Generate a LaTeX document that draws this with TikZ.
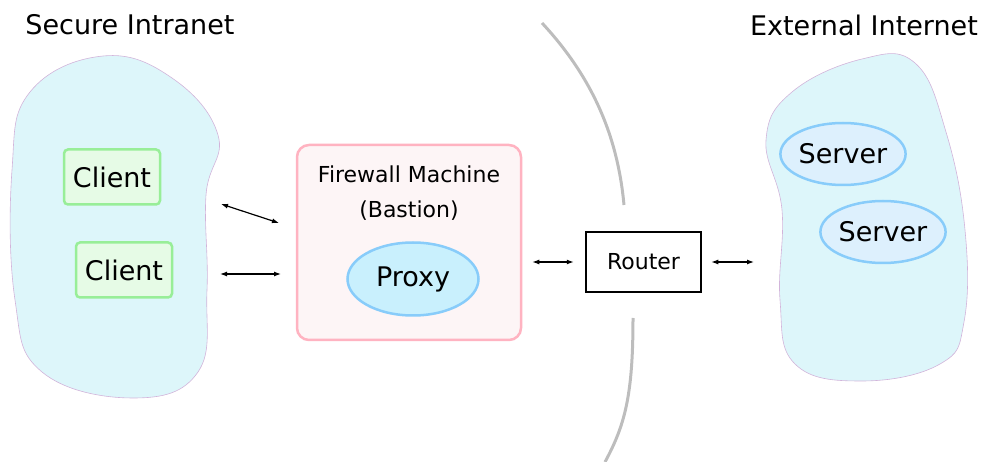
\documentclass[tikz,border=0pt]{standalone}
\usepackage{fontspec}
\setmainfont{DejaVu Sans}
\usetikzlibrary{arrows.meta,positioning,shapes.geometric}
\definecolor{netfill}{HTML}{DDF6FA}
\definecolor{netline}{HTML}{D2B4DA}
\definecolor{clientfill}{HTML}{E6FBE6}
\definecolor{clientline}{HTML}{98EE98}
\definecolor{wallfill}{HTML}{FDF5F6}
\definecolor{wallline}{HTML}{FFB3C1}
\definecolor{proxyfill}{HTML}{C9F0FD}
\definecolor{serverfill}{HTML}{DDF0FD}
\definecolor{blueline}{HTML}{88CCFA}
\definecolor{wallgray}{HTML}{BDBDBD}

\begin{document}
\begin{tikzpicture}[x=1pt,y=-1pt,
  big/.style={font=\fontsize{27}{30}\selectfont},
  small/.style={font=\fontsize{22}{35}\selectfont},
  client/.style={draw=clientline,fill=clientfill,line width=2.5pt,rounded corners=4pt,
    minimum width=96pt,minimum height=55pt,big},
  oval/.style={ellipse,draw=blueline,line width=2.5pt,inner sep=0pt,big},
  server/.style={oval,fill=serverfill,minimum width=110pt,minimum height=62pt},
  net/.style={draw=netline,fill=netfill,line width=0.6pt},
  wall/.style={draw=wallgray,line width=3pt},
  >={Latex[length=7pt,width=5pt]}, link/.style={<->,line width=1.2pt}]
  \useasboundingbox (0,0) rectangle (983,462);
  % the two networks
  \draw[net] plot[smooth cycle,tension=0.7] coordinates{(103,56) (172,78) (218,135)
    (206,195) (207,290) (198,372) (133,398) (42,372) (15,300) (12,170) (30,92)};
  \draw[net] plot[smooth cycle,tension=0.7] coordinates{(766,140) (792,92) (862,59)
    (915,63) (946,132) (965,230) (964,322) (940,364) (862,381) (795,364) (780,300) (782,210)};
  \node[big] (intra) at (130,25) {Secure Intranet};
  \node[big] (inter) at (864,25) {External Internet};
  \node[client] (c1) at (112,177) {Client};
  \node[client] (c2) at (124,270) {Client};
  \node[server] (s1) at (843,154) {Server};
  \node[server] (s2) at (883,232) {Server};
  % bastion host
  \node[draw=wallline,fill=wallfill,line width=2.5pt,rounded corners=12pt,
    minimum width=224pt,minimum height=195pt] (fw) at (409,242.5) {};
  \node[small,align=center] (fwtxt) at (409,193) {Firewall Machine\\(Bastion)};
  \node[oval,fill=proxyfill,minimum width=131pt,minimum height=73pt] (px) at (413,279) {Proxy};
  \node[draw,line width=2.5pt,minimum width=115pt,minimum height=60pt,small] (rt) at (643.5,262) {Router};
  % the wall
  \draw[wall] (542,23) .. controls (595,80) and (618,140) .. (624,205);
  \draw[wall] (633,318) .. controls (633,395) and (625,425) .. (605,462);
  % links
  \coordinate (a1) at (221,204); \coordinate (b1) at (279,223);
  \coordinate (a2) at (220,274); \coordinate (b2) at (281,274);
  \coordinate (ext) at (754,262);
  \draw[link] (a1) -- (b1);
  \draw[link] (a2) -- (b2);
  \draw[link,shorten <=10pt,shorten >=11pt] (fw.east |- rt) -- (rt.west);
  \draw[link,shorten <=9pt] (rt.east) -- (ext);
\end{tikzpicture}
\end{document}
